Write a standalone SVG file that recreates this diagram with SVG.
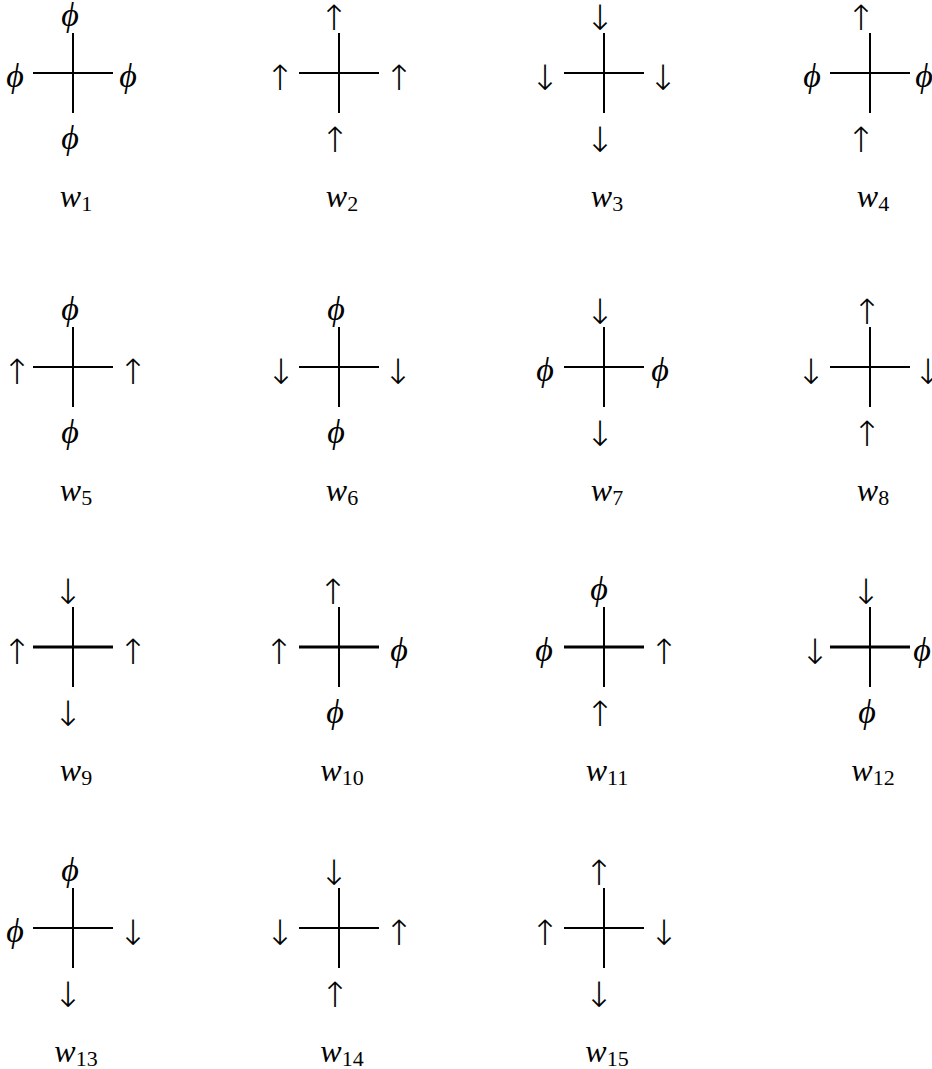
<svg xmlns="http://www.w3.org/2000/svg" width="932" height="1069" viewBox="0 0 932 1069">
<style>
.ln{stroke:#000;stroke-width:2;fill:none}
.th{stroke-width:3}
text{opacity:0.99}
.a{font-family:"DejaVu Sans",sans-serif;font-size:35px;font-weight:200;text-anchor:middle;fill:#000}
.p{font-family:"Liberation Serif",serif;font-size:34px;font-style:italic;text-anchor:middle;fill:#000}
.w{font-family:"Liberation Serif",serif;font-size:32px;font-style:italic;text-anchor:middle;fill:#000}
.s{font-size:22px;font-style:normal}
</style>
<rect width="932" height="1069" fill="#fff"/>
<g id="connectors"></g>
<g id="w1">
<line class="ln" x1="73" y1="33" x2="73" y2="113"/><line class="ln" x1="33" y1="73" x2="113" y2="73"/>
<text class="p" x="70" y="26">ϕ</text><text class="p" x="15" y="87">ϕ</text><text class="p" x="128" y="87">ϕ</text><text class="p" x="70" y="149">ϕ</text>
<text class="w" x="76" y="207">w<tspan class="s" dy="4">1</tspan></text>
</g>
<g id="w2">
<line class="ln" x1="339" y1="33" x2="339" y2="113"/><line class="ln" x1="299" y1="73" x2="379" y2="73"/>
<text class="a" x="334" y="29.5">↑</text><text class="a" x="280" y="89.5">↑</text><text class="a" x="399" y="89.5">↑</text><text class="a" x="335" y="151.5">↑</text>
<text class="w" x="342" y="207">w<tspan class="s" dy="4">2</tspan></text>
</g>
<g id="w3">
<line class="ln" x1="604" y1="33" x2="604" y2="113"/><line class="ln" x1="564" y1="73" x2="644" y2="73"/>
<text class="a" x="600" y="29.5">↓</text><text class="a" x="545" y="89.5">↓</text><text class="a" x="663" y="89.5">↓</text><text class="a" x="600" y="151.5">↓</text>
<text class="w" x="607" y="207">w<tspan class="s" dy="4">3</tspan></text>
</g>
<g id="w4">
<line class="ln" x1="870" y1="33" x2="870" y2="113"/><line class="ln" x1="830" y1="73" x2="910" y2="73"/>
<text class="a" x="861" y="29.5">↑</text><text class="p" x="812" y="87">ϕ</text><text class="p" x="924" y="87">ϕ</text><text class="a" x="861" y="151.5">↑</text>
<text class="w" x="873" y="207">w<tspan class="s" dy="4">4</tspan></text>
</g>
<g id="w5">
<line class="ln" x1="73" y1="327" x2="73" y2="407"/><line class="ln" x1="33" y1="367" x2="113" y2="367"/>
<text class="p" x="70" y="320">ϕ</text><text class="a" x="17" y="383.5">↑</text><text class="a" x="133" y="383.5">↑</text><text class="p" x="70" y="443">ϕ</text>
<text class="w" x="76" y="501">w<tspan class="s" dy="4">5</tspan></text>
</g>
<g id="w6">
<line class="ln" x1="339" y1="327" x2="339" y2="407"/><line class="ln" x1="299" y1="367" x2="379" y2="367"/>
<text class="p" x="336" y="320">ϕ</text><text class="a" x="281" y="383.5">↓</text><text class="a" x="398" y="383.5">↓</text><text class="p" x="336" y="443">ϕ</text>
<text class="w" x="342" y="501">w<tspan class="s" dy="4">6</tspan></text>
</g>
<g id="w7">
<line class="ln" x1="604" y1="327" x2="604" y2="407"/><line class="ln" x1="564" y1="367" x2="644" y2="367"/>
<text class="a" x="600" y="323.5">↓</text><text class="p" x="545" y="381">ϕ</text><text class="p" x="660" y="381">ϕ</text><text class="a" x="600" y="445.5">↓</text>
<text class="w" x="607" y="501">w<tspan class="s" dy="4">7</tspan></text>
</g>
<g id="w8">
<line class="ln" x1="870" y1="327" x2="870" y2="407"/><line class="ln" x1="830" y1="367" x2="910" y2="367"/>
<text class="a" x="867" y="323.5">↑</text><text class="a" x="811" y="383.5">↓</text><text class="a" x="928" y="383.5">↓</text><text class="a" x="867" y="445.5">↑</text>
<text class="w" x="873" y="501">w<tspan class="s" dy="4">8</tspan></text>
</g>
<g id="w9">
<line class="ln" x1="73" y1="607" x2="73" y2="687"/><line class="ln th" x1="33" y1="647" x2="113" y2="647"/>
<text class="a" x="68" y="603.5">↓</text><text class="a" x="17" y="663.5">↑</text><text class="a" x="133" y="663.5">↑</text><text class="a" x="68" y="725.5">↓</text>
<text class="w" x="76" y="781">w<tspan class="s" dy="4">9</tspan></text>
</g>
<g id="w10">
<line class="ln" x1="339" y1="607" x2="339" y2="687"/><line class="ln th" x1="299" y1="647" x2="379" y2="647"/>
<text class="a" x="333" y="603.5">↑</text><text class="a" x="279" y="663.5">↑</text><text class="p" x="399" y="661">ϕ</text><text class="p" x="335" y="723">ϕ</text>
<text class="w" x="342" y="781">w<tspan class="s" dy="4">10</tspan></text>
</g>
<g id="w11">
<line class="ln" x1="604" y1="607" x2="604" y2="687"/><line class="ln th" x1="564" y1="647" x2="644" y2="647"/>
<text class="p" x="599" y="600">ϕ</text><text class="p" x="544" y="661">ϕ</text><text class="a" x="664" y="663.5">↑</text><text class="a" x="600" y="725.5">↑</text>
<text class="w" x="607" y="781">w<tspan class="s" dy="4">11</tspan></text>
</g>
<g id="w12">
<line class="ln" x1="870" y1="607" x2="870" y2="687"/><line class="ln th" x1="830" y1="647" x2="910" y2="647"/>
<text class="a" x="866" y="603.5">↓</text><text class="a" x="815" y="663.5">↓</text><text class="p" x="922" y="661">ϕ</text><text class="p" x="867" y="723">ϕ</text>
<text class="w" x="873" y="781">w<tspan class="s" dy="4">12</tspan></text>
</g>
<g id="w13">
<line class="ln" x1="73" y1="888" x2="73" y2="968"/><line class="ln" x1="33" y1="928" x2="113" y2="928"/>
<text class="p" x="70" y="881">ϕ</text><text class="p" x="15" y="942">ϕ</text><text class="a" x="133" y="944.5">↓</text><text class="a" x="68" y="1006.5">↓</text>
<text class="w" x="76" y="1062">w<tspan class="s" dy="4">13</tspan></text>
</g>
<g id="w14">
<line class="ln" x1="339" y1="888" x2="339" y2="968"/><line class="ln" x1="299" y1="928" x2="379" y2="928"/>
<text class="a" x="334" y="884.5">↓</text><text class="a" x="280" y="944.5">↓</text><text class="a" x="399" y="944.5">↑</text><text class="a" x="335" y="1006.5">↑</text>
<text class="w" x="342" y="1062">w<tspan class="s" dy="4">14</tspan></text>
</g>
<g id="w15">
<line class="ln" x1="604" y1="888" x2="604" y2="968"/><line class="ln" x1="564" y1="928" x2="644" y2="928"/>
<text class="a" x="599" y="884.5">↑</text><text class="a" x="545" y="944.5">↑</text><text class="a" x="664" y="944.5">↓</text><text class="a" x="599" y="1006.5">↓</text>
<text class="w" x="607" y="1062">w<tspan class="s" dy="4">15</tspan></text>
</g>
</svg>
